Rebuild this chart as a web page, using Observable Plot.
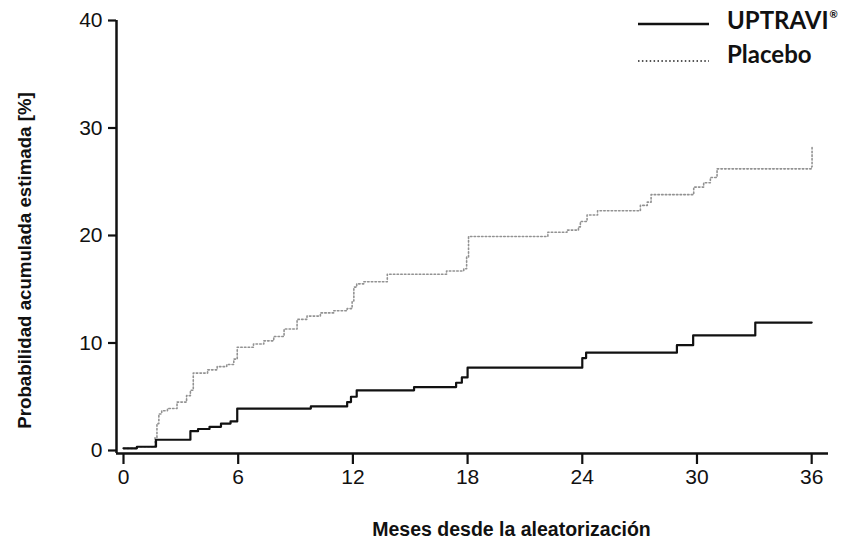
<!DOCTYPE html>
<html><head><meta charset="utf-8">
<script src="https://cdn.jsdelivr.net/npm/d3@7"></script>
<script src="https://cdn.jsdelivr.net/npm/@observablehq/plot@0.6"></script>
<style>
body{margin:0;background:#fff;}
#wrap{position:relative;width:842px;height:542px;}
#wrap svg.legend{position:absolute;left:0;top:0;pointer-events:none;}
</style></head><body><div id="wrap"></div>
<script>
const seriesNames = ["UPTRAVI", "Placebo"];
const uptraviMonths = [0, 0.7, 1.7, 3.5, 3.9, 4.5, 5.1, 5.6, 5.95, 9.8, 11.7, 11.9, 12.2, 15.2, 17.4, 17.7, 18.0, 24.0, 24.2, 28.95, 29.8, 33.05, 36.0];
const uptraviValues = [0.2, 0.35, 1.0, 1.8, 2.0, 2.2, 2.5, 2.7, 3.9, 4.1, 4.5, 5.0, 5.6, 5.9, 6.3, 6.8, 7.7, 8.6, 9.1, 9.8, 10.7, 11.9, 11.9];
const placeboMonths = [0, 0.7, 1.65, 1.75, 1.85, 2.0, 2.3, 2.8, 3.3, 3.5, 3.65, 4.4, 4.9, 5.4, 5.77, 5.95, 6.8, 7.34, 7.86, 8.4, 9.08, 9.6, 10.3, 11.0, 11.7, 11.96, 12.05, 12.2, 12.57, 13.8, 16.9, 17.8, 17.95, 18.05, 22.2, 23.2, 23.8, 23.9, 24.25, 24.8, 27.04, 27.4, 27.6, 29.83, 30.35, 30.7, 31.05, 36.0, 36.02];
const placeboValues = [0.2, 0.35, 1.2, 2.5, 3.4, 3.7, 3.9, 4.5, 5.1, 5.6, 7.2, 7.5, 7.8, 8.0, 8.5, 9.6, 9.9, 10.2, 10.6, 11.3, 12.2, 12.5, 12.8, 13.0, 13.2, 13.9, 15.2, 15.5, 15.7, 16.4, 16.7, 16.9, 18.0, 19.9, 20.3, 20.5, 20.8, 21.3, 21.9, 22.3, 22.8, 23.1, 23.8, 24.5, 24.9, 25.4, 26.2, 26.4, 28.3];
const xTicks = [0, 6, 12, 18, 24, 30, 36];
const yTicks = [0, 10, 20, 30, 40];
const xTitle = "Meses desde la aleatorización";
const yTitle = "Probabilidad acumulada estimada [%]";

const uptravi = uptraviMonths.map((m, i) => ({series: seriesNames[0], month: m, value: uptraviValues[i]}));
const placebo = placeboMonths.map((m, i) => ({series: seriesNames[1], month: m, value: placeboValues[i]}));

const xDomain = [-0.366, 36.88];
const yDomain = [-0.28, 40];

const chart = Plot.plot({
  width: 842, height: 542,
  marginLeft: 116, marginRight: 14, marginTop: 20, marginBottom: 89,
  style: {fontFamily: "'Liberation Sans', Arial, sans-serif", background: "white", color: "#111"},
  x: {domain: xDomain},
  y: {domain: yDomain},
  marks: [
    Plot.axisX({ticks: xTicks, tickSize: 11, tickPadding: 5, fontSize: 21, label: null, strokeWidth: 2.2}),
    Plot.axisY({ticks: yTicks, tickSize: 8, tickPadding: 6, fontSize: 21, label: null, strokeWidth: 2.2}),
    Plot.ruleX([xDomain[0]], {strokeWidth: 2.5}),
    Plot.ruleY([yDomain[0]], {strokeWidth: 2.5}),
    Plot.line(placebo, {x: "month", y: "value", curve: "step-after", stroke: "#929292", strokeWidth: 1.6, strokeDasharray: "1.5,2.2"}),
    Plot.line(uptravi, {x: "month", y: "value", curve: "step-after", stroke: "#111", strokeWidth: 2.2}),
    Plot.text([xTitle], {frameAnchor: "bottom", textAnchor: "middle", lineAnchor: "middle", dx: 39, dy: 76, fontSize: 19.5, fontWeight: "bold"}),
    Plot.text([yTitle], {frameAnchor: "left", textAnchor: "middle", lineAnchor: "middle", rotate: -90, dx: -91, dy: 23.5, fontSize: 18.7, fontWeight: "bold"})
  ]
});
const wrap = document.getElementById("wrap");
wrap.appendChild(chart);

// Legend overlay
const legend = d3.select(wrap).append("svg").attr("class", "legend").attr("width", 842).attr("height", 542);
const legendItems = [
  {name: seriesNames[0], y: 24, ty: 29, stroke: "#111", width: 2.5, dash: null, sup: "®"},
  {name: seriesNames[1], y: 61, ty: 63, stroke: "#555", width: 1.8, dash: "1.5,2.4", sup: null}
];
legendItems.forEach(it => {
  legend.append("line").attr("x1", 638).attr("x2", 709).attr("y1", it.y).attr("y2", it.y)
    .attr("stroke", it.stroke).attr("stroke-width", it.width).attr("stroke-dasharray", it.dash);
  const t = legend.append("text").attr("x", 727).attr("y", it.ty)
    .attr("font-family", "Lato, 'Open Sans', sans-serif").attr("font-weight", "bold").attr("font-size", 24).attr("fill", "#111")
    .text(it.name);
  if (it.sup) t.append("tspan").attr("font-size", 10).attr("dy", -11).attr("dx", 1).text(it.sup);
});
</script></body></html>
